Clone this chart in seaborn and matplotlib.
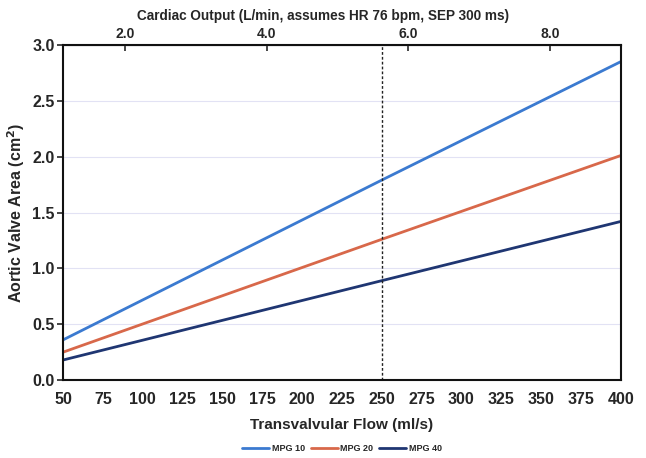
import numpy as np
import pandas as pd
import seaborn as sns
import matplotlib.pyplot as plt

flow = [50, 250, 400]
mpg10 = [0.36, 1.79, 2.85]
mpg20 = [0.25, 1.26, 2.01]
mpg40 = [0.18, 0.89, 1.42]
series = ['MPG 10', 'MPG 20', 'MPG 40']
colors = ['#3b7ad0', '#d8684a', '#1f3672']
co_ticks = [2.0, 4.0, 6.0, 8.0]

df = pd.DataFrame({'flow': flow * 3,
                   'ava': mpg10 + mpg20 + mpg40,
                   'MPG': [s for s in series for _ in flow]})

sns.set_style('white')
plt.rcParams['font.family'] = ['Liberation Sans', 'DejaVu Sans']

fig, ax = plt.subplots(figsize=(6.46, 4.58), dpi=100)
fig.subplots_adjust(left=0.0975, right=0.961, top=0.902, bottom=0.17)

sns.lineplot(data=df, x='flow', y='ava', hue='MPG', palette=colors, lw=2, ax=ax, legend=True)

ax.axvline(250, color='#222222', ls=(0, (2, 1.5)), lw=1)
ax.set_xlim(50, 400)
ax.set_ylim(0, 3)
ax.set_xticks(range(50, 401, 25))
ax.set_yticks(np.arange(0, 3.01, 0.5))
ax.set_yticklabels([f'{v:.1f}' for v in np.arange(0, 3.01, 0.5)])
ax.grid(axis='y', color='#e2e2f4', lw=0.8)
for s in ax.spines.values():
    s.set_color('#111111')
    s.set_linewidth(1.5)
ax.tick_params(axis='x', direction='inout', length=5, width=1.2, labelsize=11.5, pad=6)
ax.tick_params(axis='y', direction='out', length=4, width=1.2, labelsize=11.5, left=True, pad=2)
for t in ax.get_xticklabels() + ax.get_yticklabels():
    t.set_fontweight('bold')
ax.set_xlabel('Transvalvular Flow (ml/s)', fontsize=11, fontweight='bold', labelpad=8)
ax.set_ylabel('Aortic Valve Area (cm$^\\mathbf{2}$)', fontsize=11.5, fontweight='bold', labelpad=4)

# cardiac output axis: CO (L/min) ~ flow * SEP * HR / 1000 (scale)
k = 0.0225
top = ax.secondary_xaxis('top', functions=(lambda f: f * k, lambda c: c / k))
top.set_xticks(co_ticks)
top.set_xticklabels([f'{c:.1f}' for c in co_ticks])
top.tick_params(direction='in', length=4, width=1.2, labelsize=10, pad=3)
for t in top.get_xticklabels():
    t.set_fontweight('bold')
top.set_xlabel('Cardiac Output (L/min, assumes HR 76 bpm, SEP 300 ms)', fontsize=9.8,
               fontweight='bold', labelpad=5)
top.xaxis.label.set_x(0.466)

ax.legend(handles=ax.get_legend().legend_handles, labels=series, loc='center',
          bbox_to_anchor=(0.5, -0.203), ncol=3, frameon=False,
          handlelength=3, columnspacing=0.6, handletextpad=0.3,
          prop={'weight': 'bold', 'size': 6.5})

fig.savefig('out.png', dpi=100)
